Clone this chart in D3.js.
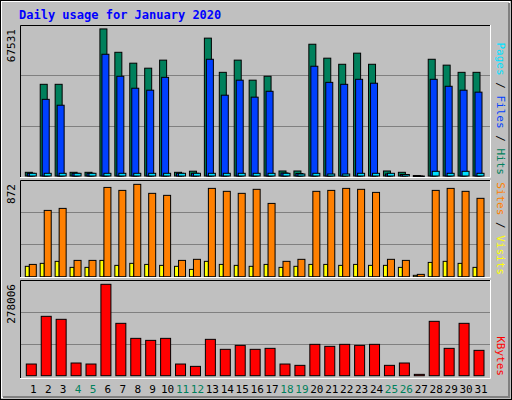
<!DOCTYPE html>
<html><head><meta charset="utf-8">
<script src="https://cdn.jsdelivr.net/npm/d3@7"></script>
<style>body{margin:0;background:#fff}</style></head>
<body><svg id="c" width="512" height="400"></svg>
<script>
const days = d3.range(1,32);
const weekend = [4,5,11,12,18,19,25,26];
const hits = [1700,42100,42100,1700,1700,67531,56800,51800,49500,53200,1700,2200,63300,47600,53200,44000,45800,2300,2300,60500,54100,51300,56400,51300,2300,1700,230,53600,50900,47600,47600];
const files = [1240,35200,32500,1240,1240,55900,45800,40300,39400,45300,1240,1240,53600,37100,44000,36200,38900,1380,1150,50400,43000,42100,44400,42600,920,690,0,44400,41200,39400,38500];
const pages = [1240,1240,1240,1240,1240,1240,1240,1240,1240,1240,1240,1240,1240,1240,1240,1240,1240,1240,920,1240,920,920,1240,1240,1240,690,0,2160,1240,2160,1240];
const visits = [116,626,645,154,154,843,815,872,787,768,154,164,834,806,787,825,692,145,164,806,815,834,825,796,164,154,22,815,834,806,740];
const sites = [98,126,145,88,88,154,107,126,116,107,98,69,145,116,107,98,116,88,98,116,116,107,116,107,107,88,13,135,145,126,88];
const kbytes = [35500,180600,171500,38600,35500,278006,159300,113600,107500,113600,35500,28400,110600,80200,92300,80200,83200,35500,31500,95400,89300,95400,92300,95400,31500,38600,4100,165400,83200,159300,77100];
const maxLabels = ["67531","872","278006"];

const svg = d3.select("#c");
const mono = "DejaVu Sans Mono, monospace";
svg.append("rect").attr("width",512).attr("height",400).attr("fill","#c0c0c0");
svg.append("rect").attr("x",0.5).attr("y",0.5).attr("width",511).attr("height",399).attr("fill","none").attr("stroke","#000");
svg.append("rect").attr("x",1.5).attr("y",1.5).attr("width",508).attr("height",396).attr("fill","none").attr("stroke","#fff");
svg.append("path").attr("d","M509,3V397H3").attr("fill","none").attr("stroke","#808080").attr("stroke-width",2);

svg.append("text").attr("x",19).attr("y",19).attr("fill","#0000ff").attr("font-family",mono).attr("font-weight","bold").attr("font-size",12).text("Daily usage for January 2020");

const x = d3.scaleLinear().domain([1,31]).range([33.3,481]);

function panel(top, bottom, base, maxVal, frac, label, series, legend) {
  const ymax = maxVal/frac;
  const y = d3.scaleLinear().domain([0,ymax]).range([base, top]);
  const g = svg.append("g");
  g.selectAll(".grid").data([ymax/3, 2*ymax/3]).enter().append("line")
    .attr("x1",21).attr("x2",490).attr("y1",d=>Math.round(y(d))+0.5).attr("y2",d=>Math.round(y(d))+0.5)
    .attr("stroke","#808080").attr("stroke-width",1);
  series.forEach(s=>{
    g.selectAll(null).data(s.data).enter().append("rect")
      .attr("x",(d,i)=>x(days[i])+s.off).attr("width",s.w)
      .attr("y",d=>y(d)).attr("height",d=>Math.max(1,base-y(d)))
      .attr("fill",s.color).attr("stroke","#000").attr("stroke-width",1);
  });
  g.append("path").attr("d",`M20.5,${bottom}V${top}.5H490.5`).attr("fill","none").attr("stroke","#000");
  g.append("path").attr("d",`M490.5,${top}V${bottom}.5H20`).attr("fill","none").attr("stroke","#fff");
  const ly = top + 4;
  g.append("text").attr("transform",`translate(15,${ly}) rotate(-90)`).attr("text-anchor","end")
    .attr("font-family",mono).attr("font-size",11).attr("fill","#000").text(label);
  const t = g.append("text").attr("transform",`translate(497,${top+2}) rotate(90)`)
    .attr("font-family",mono).attr("font-size",11);
  legend.forEach((l,i)=>{
    if(i>0) t.append("tspan").attr("fill","#000").text(" / ");
    t.append("tspan").attr("fill",l.c).text(l.t);
  });
  // right-align legend to bottom
  const len = t.node().getComputedTextLength();
  t.attr("transform",`translate(497,${bottom-len-2}) rotate(90)`);
}

panel(25,177,176,67531,0.974,maxLabels[0],[
  {data:hits,off:-8,w:7,color:"#00805c"},
  {data:files,off:-6,w:7,color:"#0040ff"},
  {data:pages,off:-4,w:7,color:"#00e0ff"}
],[{t:"Pages",c:"#00e0ff"},{t:"Files",c:"#0040ff"},{t:"Hits",c:"#00805c"}]);

panel(180,277,276.7,872,0.955,maxLabels[1],[
  {data:sites,off:-8,w:4,color:"#ffff00"},
  {data:visits,off:-4,w:7,color:"#ff8000"}
],[{t:"Sites",c:"#ff8000"},{t:"Visits",c:"#ffff00"}]);

panel(280,378,375.7,278006,0.955,maxLabels[2],[
  {data:kbytes,off:-7,w:10,color:"#ff0000"}
],[{t:"KBytes",c:"#ff0000"}]);

svg.selectAll(".day").data(days).enter().append("text")
  .attr("x",d=>x(d)).attr("y",393).attr("text-anchor","middle")
  .attr("font-family",mono).attr("font-size",11)
  .attr("fill",d=>weekend.includes(d)?"#00805c":"#000").text(d=>d);
</script></body></html>
